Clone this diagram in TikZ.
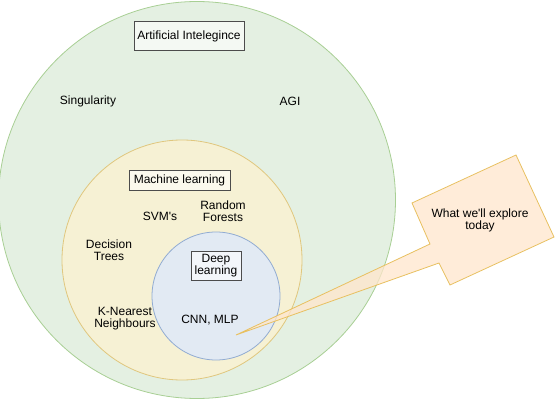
\documentclass[tikz,border=0pt]{standalone}
\usepackage{fontspec}
\setmainfont{Liberation Sans}
\begin{document}
\begin{tikzpicture}[x=1pt,y=-1pt,
  lbl/.style={font=\fontsize{12}{14}\selectfont, align=center, text=black},
  tagbox/.style={lbl, draw=black!70, line width=0.8pt, fill=white, fill opacity=0.6, text opacity=1, inner sep=3pt},
  ring/.style={circle, line width=0.8pt, inner sep=0pt}
]
\definecolor{gfill}{HTML}{E4F0E2}\definecolor{gline}{HTML}{A8CF94}
\definecolor{yfill}{HTML}{F6F1D4}\definecolor{yline}{HTML}{E0C77E}
\definecolor{bfill}{HTML}{E2EAF3}\definecolor{bline}{HTML}{92ACD2}
\definecolor{cfill}{HTML}{FFE6CC}\definecolor{cline}{HTML}{E8C060}
\useasboundingbox (0,0) rectangle (555,401);
\node[ring, draw=gline, fill=gfill, minimum size=397pt] (ai) at (197,200) {};
\node[ring, draw=yline, fill=yfill, minimum size=240pt] (ml) at (182,260) {};
\node[ring, draw=bline, fill=bfill, minimum size=128pt] (dl) at (216,296) {};
% labels
\node[tagbox, minimum width=110pt, minimum height=29pt] (tai) at (189,36) {Artificial Intelegince};
\node[tagbox, minimum width=101pt, minimum height=20pt] (tml) at (179.5,180) {Machine learning};
\node[tagbox, minimum width=50pt, minimum height=29pt, inner sep=1pt] (tdl) at (216,265.5) {Deep\\[-2pt]learning};
\node[lbl] (sing) at (88,101) {Singularity};
\node[lbl] (agi) at (290,101) {AGI};
\node[lbl] (svm) at (160,216) {SVM\textquotesingle s};
\node[lbl] (rf) at (223,211) {Random\\[-2pt]Forests};
\node[lbl] (dt) at (109,250) {Decision\\[-2pt]Trees};
\node[lbl] (knn) at (125,319) {K-Nearest\\[-2pt]Neighbours};
\node[lbl] (cnn) at (210,320) {CNN, MLP};
% callout
\coordinate (ca) at (412,203);
\coordinate (cb) at (516,155);
\coordinate (cc) at (554,237);
\coordinate (cd) at (450,285);
\coordinate (p1) at (430,244);
\coordinate (p2) at (439,263);
\coordinate (tip) at (236,335);
\draw[draw=cline, line width=0.8pt, fill=cfill, fill opacity=0.75, line join=miter]
  (ca) -- (cb) -- (cc) -- (cd) -- (p2) -- (tip) -- (p1) -- cycle;
\node[lbl] (co) at (480,220.5) {What we\textquotesingle ll explore\\[-2pt]today};
\end{tikzpicture}
\end{document}
